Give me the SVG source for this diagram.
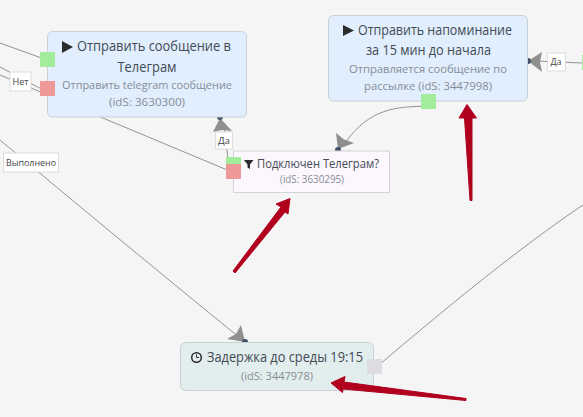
<svg xmlns="http://www.w3.org/2000/svg" width="583" height="417" viewBox="0 0 583 417">
<style>
text{font-family:"Open Sans","Noto Sans","DejaVu Sans",sans-serif;text-anchor:middle}
.t{font-size:14px;fill:#434a54}
.s{font-size:11.500px;fill:#878d96}
.l{font-size:9.500px;fill:#444}
.lb{fill:#fff;stroke:#dcdcdc;stroke-width:1}
.n{stroke:#c8d0d8;stroke-width:1}
.c{fill:none;stroke:#949494;stroke-width:1}
.a{fill:#8f8f8f}
.d{fill:#3f5266}
.g{fill:#a3ec9c}
.r{fill:#ef9898}
.red{fill:#b0001e;stroke:#b0001e;stroke-width:1;stroke-linejoin:round}
.i{fill:#2b2b2b}
</style>
<rect width="583" height="417" fill="#f5f5f5"/>
<g id="connectors">
<path class="c" d="M0,43L47,60"/>
<path class="c" d="M0,67L47,92"/>
<path class="c" d="M0,75L232,172"/>
<path class="c" d="M0,140C60,190 150,265 245,342"/>
<path class="c" d="M229,166L224,128"/>
<path class="c" d="M428,106C395,107 370,108 345,143"/>
<path class="c" d="M582,63L535,61"/>
<path class="c" d="M379,365C440,313 520,247 583,205"/>
<path class="a" d="M220,118L232,131L222,130L213,132Z"/>
<path class="a" d="M338,149L336,133L344,139.500L354,143Z"/>
<path class="a" d="M528,61L542,52L540,62L542,72Z"/>
<path class="a" d="M245,342L241,325L236,334L227,339Z"/>
<circle class="d" cx="220" cy="117" r="3"/>
<circle class="d" cx="338" cy="150" r="3"/>
<circle class="d" cx="528" cy="61" r="3"/>
<circle class="d" cx="245" cy="342" r="3"/>
</g>
<g id="node-3630300">
<rect class="n" x="47.500" y="31.500" width="199" height="85.500" rx="5" fill="#e0eefd"/>
<path class="i" d="M62,41L73,47L62,53Z"/>
<text class="t" x="154" y="51" textLength="154" lengthAdjust="spacingAndGlyphs">Отправить сообщение в</text>
<text class="t" x="147" y="71.500" textLength="59" lengthAdjust="spacingAndGlyphs">Телеграм</text>
<text class="s" x="147" y="89" textLength="170" lengthAdjust="spacingAndGlyphs">Отправить telegram сообщение</text>
<text class="s" x="147" y="106" textLength="76" lengthAdjust="spacingAndGlyphs">(idS: 3630300)</text>
<rect class="g" x="40" y="52" width="15" height="15"/>
<rect class="r" x="40" y="81" width="15" height="15"/>
</g>
<g id="node-3630295">
<rect x="233.500" y="151" width="156" height="41.500" fill="#fbf7fd" stroke="#d4d4d8"/>
<path class="i" d="M244,160H253.500L250,164.500V169L247.500,167.500V164.500Z"/>
<text class="t" x="318" y="168" style="font-size:12.500px" textLength="122" lengthAdjust="spacingAndGlyphs">Подключен Телеграм?</text>
<text class="s" x="312" y="182.500" style="font-size:10.500px" textLength="64" lengthAdjust="spacingAndGlyphs">(idS: 3630295)</text>
<rect class="g" x="226" y="157" width="15" height="15"/>
<rect class="r" x="226" y="164" width="15" height="15"/>
</g>
<g id="node-3447998">
<rect class="n" x="328.500" y="15.500" width="199" height="85.500" rx="5" fill="#e0eefd"/>
<path class="i" d="M343,25L354,30.500L343,36Z"/>
<text class="t" x="435" y="35" textLength="154" lengthAdjust="spacingAndGlyphs">Отправить напоминание</text>
<text class="t" x="428.500" y="55" textLength="125" lengthAdjust="spacingAndGlyphs">за 15 мин до начала</text>
<text class="s" x="428" y="73" textLength="158" lengthAdjust="spacingAndGlyphs">Отправляется сообщение по</text>
<text class="s" x="428" y="90" textLength="128" lengthAdjust="spacingAndGlyphs">рассылке (idS: 3447998)</text>
<rect class="g" x="421" y="94" width="15" height="15"/>
</g>
<g id="node-3447978">
<rect class="n" x="180.500" y="342.500" width="193" height="48" rx="5" fill="#e2edee"/>
<circle cx="196.500" cy="357.500" r="4.800" fill="none" stroke="#2b2b2b" stroke-width="1.500"/>
<path d="M196.500,354.500V357.500H199" fill="none" stroke="#2b2b2b"/>
<text class="t" x="285" y="362" textLength="156" lengthAdjust="spacingAndGlyphs">Задержка до среды 19:15</text>
<text class="s" x="277" y="380" textLength="72" lengthAdjust="spacingAndGlyphs">(idS: 3447978)</text>
<rect x="367" y="359" width="15" height="15" fill="#dfdbe3"/>
</g>
<g id="labels">
<rect class="lb" x="10" y="72" width="21" height="19"/>
<text class="l" x="20.500" y="84.500" textLength="16" lengthAdjust="spacingAndGlyphs">Нет</text>
<rect class="lb" x="3.500" y="153" width="55" height="19"/>
<text class="l" x="31" y="165.500" textLength="50" lengthAdjust="spacingAndGlyphs">Выполнено</text>
<rect class="lb" x="215.500" y="132" width="17" height="17"/>
<text class="l" x="224" y="143.500" textLength="12" lengthAdjust="spacingAndGlyphs">Да</text>
<rect class="lb" x="547.500" y="53" width="18" height="18"/>
<text class="l" x="556" y="65" textLength="11" lengthAdjust="spacingAndGlyphs">Да</text>
<rect class="g" x="582" y="55" width="1" height="15"/>
</g>
<g id="annotations">
<path class="red" d="M233,271L281,207L276,204L290,198.500L288,214L285,212L235,273Z"/>
<path class="red" d="M470,200.500L464.500,118H459L467,104.500L476.500,118H472L472,200.500Z"/>
<path class="red" d="M466,400.500L343,389L342.500,392.500L331,383L345,376.500L344,382L466,398.500Z"/>
</g>
</svg>
